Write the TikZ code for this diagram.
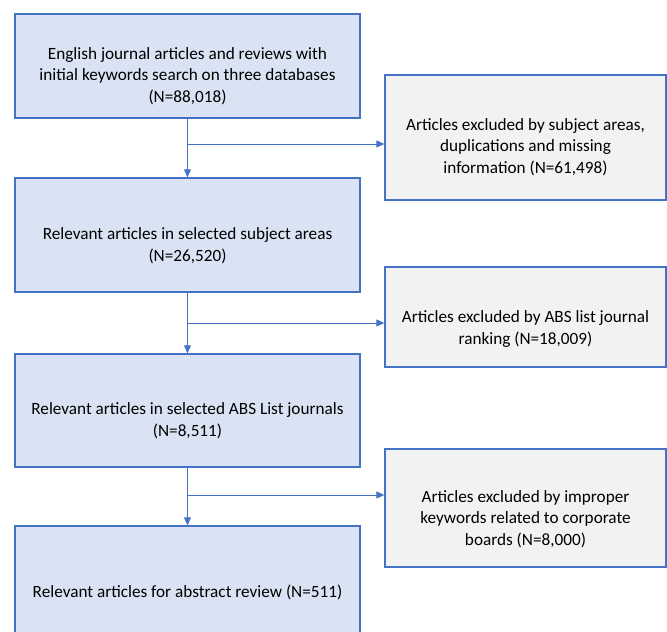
\documentclass[tikz,border=0pt]{standalone}
\usepackage{fontspec}
\setmainfont{Carlito}
\usetikzlibrary{arrows.meta,positioning}
\definecolor{bfill}{HTML}{DAE3F3}
\definecolor{bline}{HTML}{4472C4}
\definecolor{gfill}{HTML}{F2F2F2}
\begin{document}
\begin{tikzpicture}[x=1pt,y=-1pt,
  mainbox/.style={draw=bline,fill=bfill,line width=1.3pt,inner sep=0pt},
  sidebox/.style={draw=bline,fill=gfill,line width=1.3pt,inner sep=0pt},
  txt/.style={align=center,font=\fontsize{17.2}{21.7}\selectfont,inner sep=0pt},
  conn/.style={draw=bline,line width=0.9pt,-{Triangle[length=8pt,width=7pt]}},
  plain/.style={draw=bline,line width=0.9pt}]
\useasboundingbox (0,0) rectangle (667,632);
% main boxes
\node[mainbox,minimum width=345pt,minimum height=104pt] (b1) at (187.5,66) {};
\node[mainbox,minimum width=345pt,minimum height=114pt] (b2) at (187.5,235) {};
\node[mainbox,minimum width=345pt,minimum height=113pt] (b3) at (187.5,410.5) {};
\node[mainbox,minimum width=345pt,minimum height=114pt] (b4) at (187.5,583) {};
% side boxes
\node[sidebox,minimum width=281pt,minimum height=125pt] (r1) at (525.5,137.5) {};
\node[sidebox,minimum width=281pt,minimum height=100pt] (r2) at (525.5,317) {};
\node[sidebox,minimum width=281pt,minimum height=118pt] (r3) at (525.5,508) {};
% texts
\node[txt] (t1) at (187.5,76) {English journal articles and reviews with\\initial keywords search on three databases\\(N=88,018)};
\node[txt] (t2) at (187.5,245.5) {Relevant articles in selected subject areas\\(N=26,520)};
\node[txt] (t3) at (187.5,420.5) {Relevant articles in selected ABS List journals\\(N=8,511)};
\node[txt] (t4) at (187.5,592) {Relevant articles for abstract review (N=511)};
\node[txt] (s1) at (525.5,147) {Articles excluded by subject areas,\\duplications and missing\\information (N=61,498)};
\node[txt] (s2) at (525.5,329) {Articles excluded by ABS list journal\\ranking (N=18,009)};
\node[txt] (s3) at (525.5,519) {Articles excluded by improper\\keywords related to corporate\\boards (N=8,000)};
% branch points
\coordinate (j1) at (187.5,144);
\coordinate (j2) at (187.5,323);
\coordinate (j3) at (187.5,495);
% connectors
\draw[conn] (b1.south) -- (b2.north);
\draw[conn] (b2.south) -- (b3.north);
\draw[conn] (b3.south) -- (b4.north);
\draw[conn] (j1) -- (j1 -| r1.west);
\draw[conn] (j2) -- (j2 -| r2.west);
\draw[conn] (j3) -- (j3 -| r3.west);
\end{tikzpicture}
\end{document}
